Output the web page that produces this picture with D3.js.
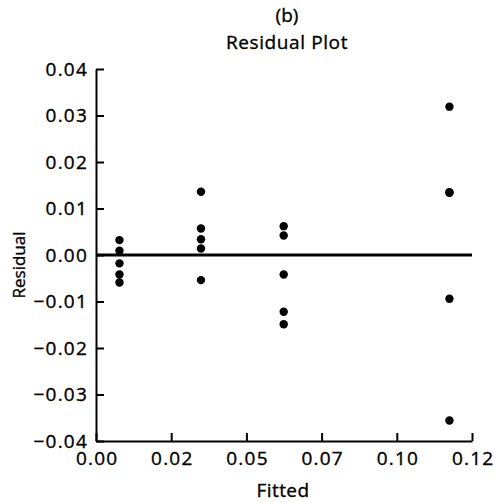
<!DOCTYPE html>
<html><head><meta charset="utf-8">
<script src="https://cdn.jsdelivr.net/npm/d3@7"></script>
<style>
body{margin:0;background:#fff;}
svg{display:block;}
text{font-family:"Open Sans",sans-serif;fill:#000;stroke:#000;stroke-width:0.35px;}
</style></head>
<body>
<script>
// Data
const fitted = [0.0078,0.0078,0.0078,0.0078,0.0078,
                0.0349,0.0349,0.0349,0.0349,0.0349,
                0.0624,0.0624,0.0624,0.0624,0.0624,
                0.1175,0.1175,0.1175,0.1175,0.1175];
const residual = [0.0032,0.0009,-0.0018,-0.0042,-0.0059,
                  0.0136,0.0057,0.0034,0.0014,-0.0054,
                  0.0062,0.0042,-0.0042,-0.0122,-0.0149,
                  0.0319,0.0135,0.0134,-0.0094,-0.0356];
const xTickValues = [0,0.025,0.05,0.075,0.1,0.125];
const xTickLabels = ["0.00","0.02","0.05","0.07","0.10","0.12"];
const yTickValues = [0.04,0.03,0.02,0.01,0,-0.01,-0.02,-0.03,-0.04];
const yTickLabels = ["0.04","0.03","0.02","0.01","0.00","\u22120.01","\u22120.02","\u22120.03","\u22120.04"];
const titleLines = ["(b)","Residual Plot"];
const xLabel = "Fitted", yLabel = "Residual";

const W=494,H=502;
const svg=d3.select("body").append("svg").attr("width",W).attr("height",H);
const x=d3.scaleLinear().domain([0,0.125]).range([96,472]);
const y=d3.scaleLinear().domain([-0.04,0.04]).range([441,69]);

const fs=19;
// x axis
const xa=svg.append("g").attr("transform",`translate(0,${y(-0.04)})`)
  .call(d3.axisBottom(x).tickValues(xTickValues).tickFormat((d,i)=>xTickLabels[i]).tickSizeInner(-8).tickSizeOuter(0).tickPadding(11));
// y axis
const ya=svg.append("g").attr("transform",`translate(${x(0)},0)`)
  .call(d3.axisLeft(y).tickValues(yTickValues).tickFormat((d,i)=>yTickLabels[i]).tickSizeInner(-8).tickSizeOuter(0).tickPadding(8));
[xa,ya].forEach(g=>{
  g.selectAll(".domain").attr("stroke","#000").attr("stroke-width",2);
  g.selectAll(".tick line").attr("stroke","#000").attr("stroke-width",2);
  g.selectAll("text").attr("font-family","'Open Sans',sans-serif").attr("font-size",fs)
    .attr("letter-spacing","1.2px").attr("fill","#000").attr("stroke","#000").attr("stroke-width",0.35);
});
xa.selectAll("text").attr("dx","0.6px");

// zero line
svg.append("line").attr("x1",x(0)).attr("x2",x(0.125)).attr("y1",y(0)).attr("y2",y(0))
  .attr("stroke","#000").attr("stroke-width",3);

// points
svg.append("g").selectAll("circle").data(fitted).join("circle")
  .attr("cx",d=>x(d)).attr("cy",(d,i)=>y(residual[i])).attr("r",4.2).attr("fill","#000");

// titles
svg.append("text").attr("x",287).attr("y",22).attr("text-anchor","middle").attr("font-size",19).text(titleLines[0]);
svg.append("text").attr("x",287).attr("y",49).attr("text-anchor","middle").attr("font-size",19).attr("letter-spacing","0.6px").text(titleLines[1]);
svg.append("text").attr("x",283).attr("y",497).attr("text-anchor","middle").attr("font-size",19).attr("letter-spacing","0.4px").text(xLabel);
svg.append("text").attr("transform","translate(25,265) rotate(-90)").attr("text-anchor","middle").attr("font-size",17).text(yLabel);
</script>
</body></html>
